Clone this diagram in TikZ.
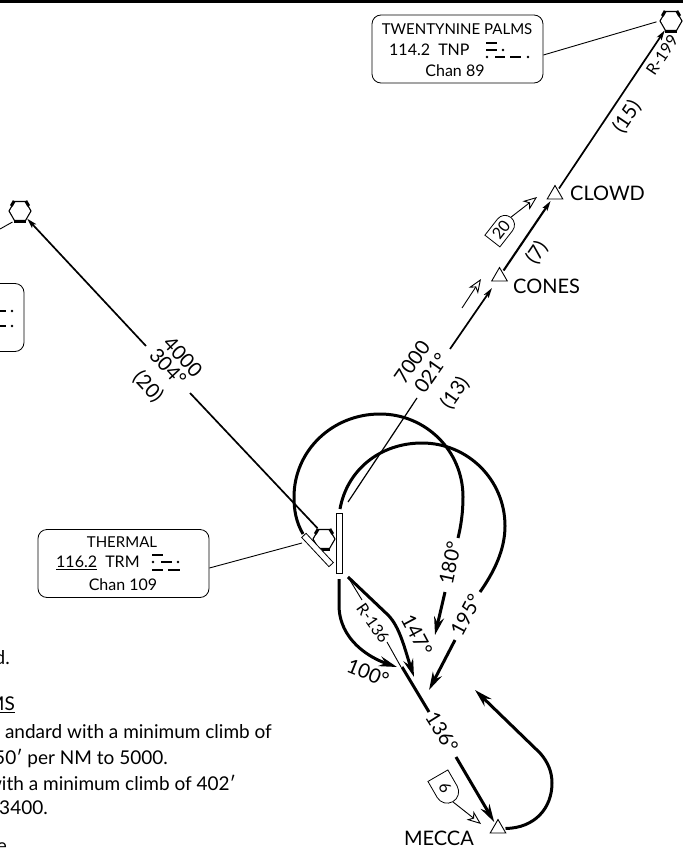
\documentclass[tikz,border=0pt]{standalone}
\usepackage{fontspec}
\setmainfont{Lato}
\usetikzlibrary{arrows.meta,shapes.geometric,shapes.misc}
\begin{document}
\begin{tikzpicture}[x=1pt,y=-1pt,font=\fontsize{20}{22}\selectfont,
        vor/.style={draw,regular polygon,regular polygon sides=6,minimum size=22pt,inner sep=0pt,line width=1.1pt},
        vorbar/.style={line width=3pt},
        fix/.style={draw,regular polygon,regular polygon sides=3,minimum size=18pt,inner sep=0pt,line width=0.9pt,outer sep=2pt},
        infobox/.style={draw,rounded corners=9pt,minimum height=68pt,inner sep=0pt,line width=0.8pt},
        boxtext/.style={font=\fontsize{16}{18}\selectfont},
        boxcaps/.style={font=\fontsize{15}{17}\selectfont},
        small/.style={font=\fontsize{16}{18}\selectfont},
        note/.style={anchor=east,inner sep=0pt,font=\fontsize{19}{21}\selectfont},
        rwy/.style={draw,fill=white,minimum width=60pt,minimum height=6pt,inner sep=0pt,line width=0.8pt},
        gate/.style={draw,rounded rectangle,rounded rectangle west arc=none,inner sep=0pt,line width=0.8pt,font=\fontsize{16}{18}\selectfont},
        leader/.style={line width=0.9pt},
        route/.style={line width=1.7pt},
        heavy/.style={line width=3pt},
        morse/.style={line width=1.8pt},
        tip/.style={-{Stealth[length=10pt,width=5.5pt,inset=2pt]}},
        bigtip/.style={-{Stealth[length=18pt,width=10pt,inset=6pt]}},
        flow/.style={line width=0.9pt,-{Stealth[open,length=14pt,width=11pt,inset=4pt]}}]
    \useasboundingbox (0,0) rectangle (683,848);
    \clip (0,0) rectangle (683,848);
    \fill (0,0) rectangle (683,3);

    \node[vor] (tnp) at (671,21) {};
    \node[vor] (lft) at (20,211) {};
    \node[vor] (trm) at (324,539) {};
    \foreach \v in {tnp,lft,trm}{
        \draw[vorbar] (\v.240) -- (\v.300);
        \draw[vorbar] (\v.120) -- (\v.150);
        \draw[vorbar] (\v.60) -- (\v.30);
    }
    \node[fix] (clowd) at (555,194.5) {};
    \node[fix] (cones) at (499.5,276.5) {};
    \node[fix] (mecca) at (498,828.5) {};
    \node[anchor=west,inner sep=0pt] (clowdlbl) at (570,193) {CLOWD};
    \node[anchor=west,inner sep=0pt] (coneslbl) at (513,286) {CONES};
    \node[anchor=east,inner sep=0pt] (meccalbl) at (474,838) {MECCA};

    \node[rwy,minimum width=60pt,minimum height=6pt,rotate=90] (rwya) at (339,543) {};
    \node[rwy,minimum width=40pt,rotate=-47] (rwyb) at (317.5,550) {};

    % frequency boxes
    \node[infobox,minimum width=171pt] (tnpbox) at (457.5,49) {};
    \node[boxcaps] (tnpa) at (457,29) {TWENTYNINE PALMS};
    \node[boxtext,anchor=west,inner sep=0pt] (tnpb) at (389,50) {114.2\ \ TNP};
    \node[boxtext] (tnpc) at (455,71) {Chan 89};
    \node[infobox,minimum width=100pt] (lftbox) at (-26,317.5) {};
    \node[infobox,minimum width=171pt] (trmbox) at (123.5,563.5) {};
    \node[boxcaps] (trma) at (122,542) {THERMAL};
    \node[boxtext,anchor=west,inner sep=0pt] (trmb) at (56,563) {\underline{116.2}\ \ TRM};
    \node[boxtext] (trmc) at (123,585) {Chan 109};
    \foreach \xa/\xb/\ya in {486/497/43,486/497/50,495/505/57,510/521/57,
            152/163/555,161/172/562,152/163/570,168/180/570,-10/6/311,-10/6/326}
        \draw[morse] (\xa,\ya) -- (\xb,\ya);
    \foreach \xa/\ya in {503/50,487/57,528/57,153/562,178/562,12/311,12/326}
        \fill (\xa,\ya) circle (1.4);

    % leaders
    \coordinate (trmend) at (302,543);
    \draw[leader,shorten >=3pt] (tnpbox.-4) -- (tnp.west);
    \draw[leader] (trmbox.-3) -- (trmend);
    \coordinate (lftend) at (0,229);
    \draw[leader,shorten <=2pt] (lft.240) -- (lftend);

    % routes
    \draw[route,tip] (clowd) -- (tnp);
    \draw[route,line width=2.1pt,tip] (cones) -- (clowd);
    \node[small,rotate=56] (r199) at (662,55) {R-199};
    \node[rotate=56] (d15) at (627,117) {(15)};
    \node[rotate=56] (d7) at (537,253) {(7)};

    \coordinate (upa) at (450,349);
    \coordinate (upb) at (492,288);
    \coordinate (upc) at (417,398);
    \coordinate (upd) at (348,502);
    \draw[route,tip] (upa) -- (upb);
    \draw[leader,line width=1.2pt] (upc) -- (upd);
    \node[rotate=55] (alta) at (412,362) {7000};
    \node[rotate=55] (crsa) at (431,373) {021°};
    \node[rotate=55] (dsta) at (455,393) {(13)};

    \coordinate (wsa) at (146,346);
    \coordinate (wsb) at (190,393);
    \draw[route,tip] (wsa) -- (lft);
    \draw[route,shorten >=1pt] (wsb) -- (trm.120);
    \node[rotate=-47] (altb) at (183,357) {4000};
    \node[rotate=-47] (crsb) at (168,367) {304°};
    \node[rotate=-47] (dstb) at (148,387) {(20)};

    % gates
    \node[gate,rotate=52,minimum width=30pt,minimum height=19pt] (gatea) at (501,230) {20};
    \coordinate (gateaend) at (537,197);
    \draw[flow] (gatea.east) -- (gateaend);
    \coordinate (flowa) at (462,308);
    \coordinate (flowb) at (481,279);
    \draw[flow] (flowa) -- (flowb);
    \node[gate,rotate=-60,minimum width=30pt,minimum height=23pt] (gateb) at (445,788) {6};
    \coordinate (gatebend) at (481,824);
    \draw[flow] (gateb.east) -- (gatebend);

    % climbing turns
    \coordinate (aa) at (303,534);
    \coordinate (ab) at (458,538);
    \coordinate (ac) at (445,592);
    \coordinate (ad) at (435,635);
    \draw[heavy] (aa) .. controls (296,522) and (294,510) .. (294,497)
        .. controls (294,451) and (332,414) .. (380,414)
        .. controls (426,414) and (463,451) .. (463,497)
        .. controls (463,512) and (461,526) .. (ab);
    \draw[heavy,bigtip] (ac) -- (ad);
    \node[rotate=78] (hdga) at (450,563) {180°};

    \coordinate (ba) at (340,509);
    \coordinate (bb) at (480,592);
    \coordinate (bc) at (455,640);
    \coordinate (bd) at (429,690);
    \draw[heavy] (ba) .. controls (347,470) and (380,443) .. (422,443)
        .. controls (468,443) and (505,480) .. (505,526)
        .. controls (505,550) and (494,572) .. (bb);
    \draw[heavy,bigtip] (bc) -- (bd);
    \node[rotate=62] (hdgb) at (466,615) {195°};

    \coordinate (ca) at (339,579);
    \coordinate (cb) at (397,667);
    \draw[heavy,bigtip] (ca) -- (339,605) .. controls (339,640) and (370,658) .. (cb);
    \node[rotate=-22] (hdgc) at (368,673) {100°};

    \coordinate (da) at (348,577);
    \coordinate (db) at (414,677);
    \draw[heavy,bigtip] (da) -- (388,615) .. controls (400,627) and (405,650) .. (db);
    \node[rotate=-62] (hdgd) at (417,635) {147°};

    \coordinate (ea) at (402,667);
    \coordinate (eb) at (429,712);
    \coordinate (ec) at (456,757);
    \draw[heavy] (ea) -- (eb);
    \draw[heavy,bigtip] (ec) -- (mecca);
    \node[rotate=-58] (hdge) at (442,732) {136°};

    \node[small,rotate=-55] (r136) at (373,623) {R-136};
    \coordinate (fa) at (362,600);
    \coordinate (fb) at (387,642);
    \coordinate (fc) at (401,667);
    \draw[leader] (da) -- (fa);
    \draw[leader] (fb) -- (fc);

    % holding
    \coordinate (ha) at (475,690);
    \draw[heavy,bigtip] (mecca.east) .. controls (535,828) and (552,808) .. (552,783)
        .. controls (552,772) and (548,762) .. (540,753) -- (ha);

    % notes
    \node[note] (notea) at (10,658) {d.};
    \node[note] (noteb) at (15,705) {\underline{MS}};
    \node[note] (notec) at (272,732) {andard with a minimum climb of};
    \node[note] (noted) at (168,758) {50′ per NM to 5000.};
    \node[note] (notee) at (236,783) {with a minimum climb of 402′};
    \node[note] (notef) at (48,808) {3400.};
    \node[note] (noteg) at (7,848) {e};
\end{tikzpicture}
\end{document}
